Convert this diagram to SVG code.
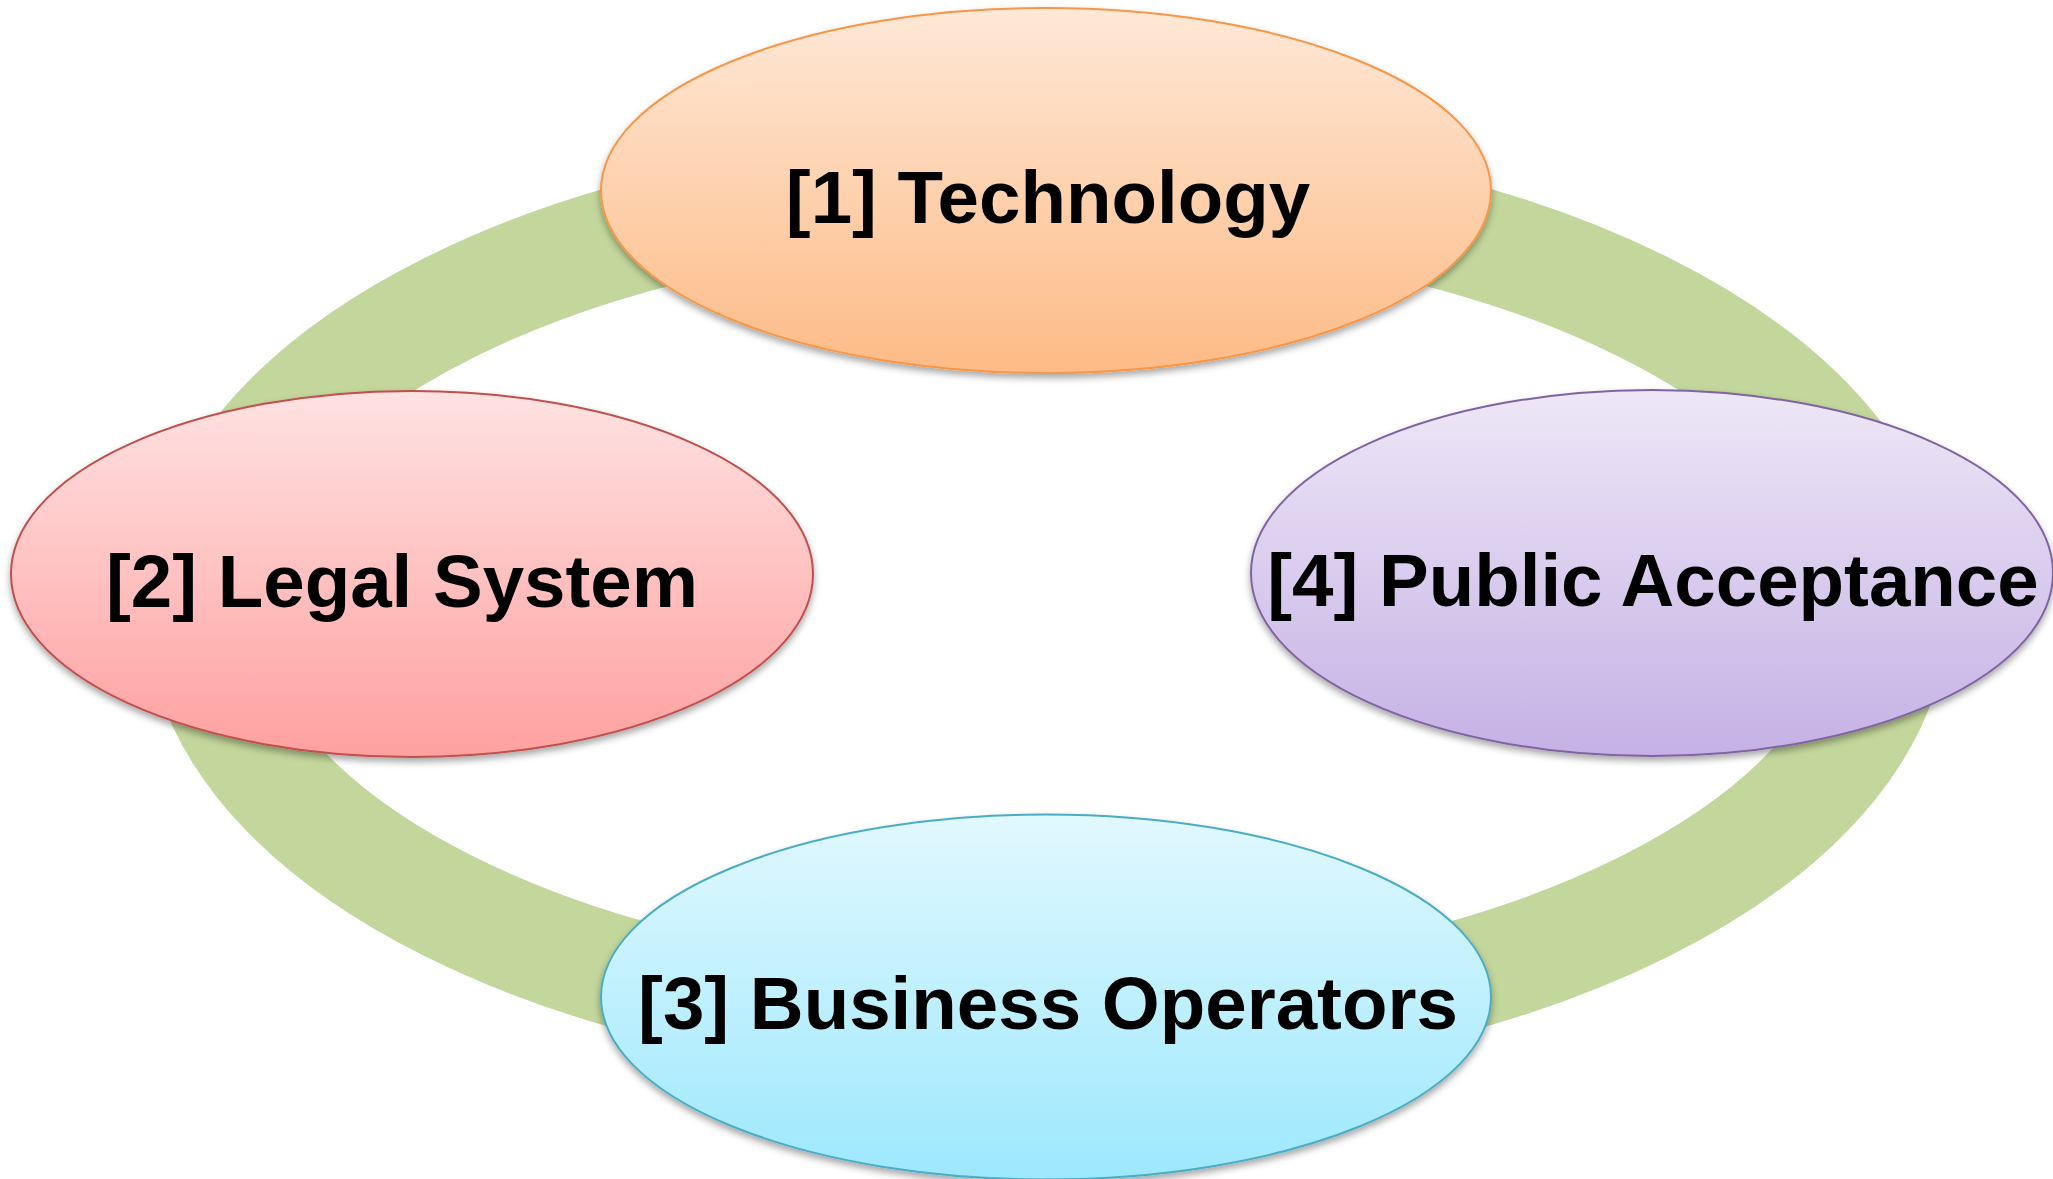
<svg xmlns="http://www.w3.org/2000/svg" width="2053" height="1179" viewBox="0 0 2053 1179">
  <defs>
    <linearGradient id="gOrange" x1="0" y1="0" x2="0" y2="1">
      <stop offset="0" stop-color="#FEE8D7"/>
      <stop offset="1" stop-color="#FDBB86"/>
    </linearGradient>
    <linearGradient id="gRed" x1="0" y1="0" x2="0" y2="1">
      <stop offset="0" stop-color="#FFE2E2"/>
      <stop offset="1" stop-color="#FFA0A0"/>
    </linearGradient>
    <linearGradient id="gPurple" x1="0" y1="0" x2="0" y2="1">
      <stop offset="0" stop-color="#EEE7F7"/>
      <stop offset="1" stop-color="#C5B1E5"/>
    </linearGradient>
    <linearGradient id="gBlue" x1="0" y1="0" x2="0" y2="1">
      <stop offset="0" stop-color="#E1F8FE"/>
      <stop offset="1" stop-color="#9DE8FD"/>
    </linearGradient>
    <filter id="shadow" x="-10%" y="-10%" width="120%" height="130%">
      <feDropShadow dx="0" dy="4" stdDeviation="3.5" flood-color="#000" flood-opacity="0.35"/>
    </filter>
  </defs>
  <style>
    .node { stroke-width: 2; filter: url(#shadow); }
    .label { font-family: "Liberation Sans", Arial, sans-serif; font-weight: bold; font-size: 74.5px; fill: #000; text-anchor: middle; }
    .ring { fill: none; stroke: #C3D69B; stroke-width: 111; }
  </style>
  <rect width="2053" height="1179" fill="#fff"/>

  <!-- cycle band linking the four factors -->
  <g id="connectors">
    <ellipse class="ring" cx="1047" cy="607" rx="846" ry="423"/>
  </g>

  <g id="technology">
    <ellipse class="node" cx="1046" cy="190.5" rx="445" ry="182.5" fill="url(#gOrange)" stroke="#F79646"/>
    <text class="label" x="1048" y="223">[1] Technology</text>
  </g>

  <g id="legal-system">
    <ellipse class="node" cx="412" cy="574" rx="401" ry="183" fill="url(#gRed)" stroke="#C0504D"/>
    <text class="label" x="402" y="607">[2] Legal System</text>
  </g>

  <g id="public-acceptance">
    <ellipse class="node" cx="1652" cy="573" rx="401" ry="183" fill="url(#gPurple)" stroke="#8064A2"/>
    <text class="label" x="1653" y="606">[4] Public Acceptance</text>
  </g>

  <g id="business-operators">
    <ellipse class="node" cx="1046" cy="997" rx="445" ry="182.5" fill="url(#gBlue)" stroke="#4BACC6"/>
    <text class="label" x="1048" y="1029">[3] Business Operators</text>
  </g>
</svg>
